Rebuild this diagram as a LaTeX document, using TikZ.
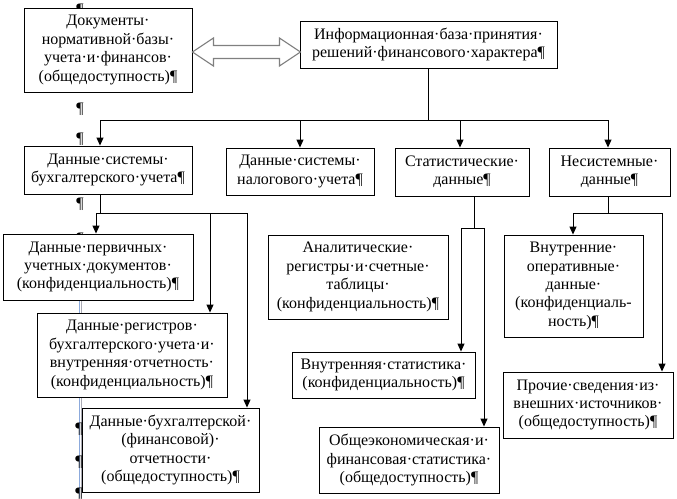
\documentclass[tikz,border=0pt]{standalone}
\usepackage{fontspec}
\setmainfont{Liberation Serif}
\usetikzlibrary{arrows.meta,calc}
\definecolor{markblue}{RGB}{140,170,220}
\definecolor{markgray}{RGB}{170,170,180}
\definecolor{arrgray}{RGB}{128,128,128}
\begin{document}
\begin{tikzpicture}[x=1pt,y=-1pt,
  txt/.style={font=\fontsize{16}{18.4}\selectfont},
  box/.style={txt, draw, fill=white, line width=0.9pt, inner sep=0pt, align=center},
  conn/.style={line width=0.9pt},
  arr/.style={conn, -{Triangle[length=8pt,width=7pt]}},
  stray/.style={txt, inner sep=0pt, anchor=base},
  markline/.style={line width=0.7pt}]
\useasboundingbox (0,0) rectangle (677,498);
\fill[white] (0,0) rectangle (677,498);

% formatting marks behind the boxes
\draw[markline, markblue] (79.2,236) -- (79.2,498);
\draw[markline, markgray] (81,236) -- (81,498);
\node[stray] (p1) at (80,14) {¶};
\node[stray] (p2) at (80,113) {¶};
\node[stray] (p3) at (80,143) {¶};
\node[stray] (p4) at (80,208) {¶};
\node[stray] (p5) at (80,243) {¶};
\node[stray] (p6) at (79,433) {¶};
\node[stray] (p7) at (79,466) {¶};
\node[stray] (p8) at (79,498) {¶};

% boxes
\node[box, minimum width=168pt, minimum height=84pt] (A) at (108,50)
  {Документы·\\нормативной·базы·\\учета·и·финансов·\\(общедоступность)¶};
\node[box, minimum width=257pt, minimum height=47pt] (B) at (428.5,44.5)
  {Информационная·база·принятия·\\решений·финансового·характера¶};
\node[box, minimum width=168pt, minimum height=48pt] (C) at (108,170)
  {Данные·системы·\\бухгалтерского·учета¶};
\node[box, minimum width=148pt, minimum height=47pt] (D) at (300,171.5)
  {Данные·системы·\\налогового·учета¶};
\node[box, minimum width=134pt, minimum height=48pt] (E) at (462,172)
  {Статистические·\\данные¶};
\node[box, minimum width=121pt, minimum height=48pt] (F) at (609.5,172)
  {Несистемные·\\данные¶};
\node[box, minimum width=190pt, minimum height=66pt] (G) at (98,267)
  {Данные·первичных·\\учетных·документов·\\(конфиденциальность)¶};
\node[box, minimum width=190pt, minimum height=84pt] (H) at (132,355)
  {Данные·регистров·\\бухгалтерского·учета·и·\\внутренняя·отчетность·\\(конфиденциальность)¶};
\node[box, minimum width=177pt, minimum height=84pt] (I) at (170.5,450)
  {Данные·бухгалтерской·\\(финансовой)·\\отчетности·\\(общедоступность)¶};
\node[box, minimum width=180pt, minimum height=84pt] (J) at (358,277)
  {Аналитические·\\регистры·и·счетные·\\таблицы·\\(конфиденциальность)¶};
\node[box, minimum width=183pt, minimum height=46pt] (K) at (383.5,375)
  {Внутренняя·статистика·\\(конфиденциальность)¶};
\node[box, minimum width=180pt, minimum height=66pt] (L) at (409,460)
  {Общеэкономическая·и·\\финансовая·статистика·\\(общедоступность)¶};
\node[box, minimum width=139pt, minimum height=102pt] (M) at (573.5,286)
  {Внутренние·\\оперативные·\\данные·\\(конфиденциаль-\\ность)¶};
\node[box, minimum width=170pt, minimum height=66pt] (N) at (588,405)
  {Прочие·сведения·из·\\внешних·источников·\\(общедоступность)¶};

% double arrow between A and B
\draw[line width=1.1pt, arrgray, fill=white, line join=miter]
  ($(A.east)+(0,2)$) -- ++(21,-14) -- ++(0,7.5) -- ++(66,0) -- ++(0,-7.5)
  -- ++(21,14) -- ++(-21,14) -- ++(0,-7.5) -- ++(-66,0) -- ++(0,7.5) -- cycle;

% top level
\coordinate (jB) at (428,120);
\coordinate (h1) at (100,120);
\coordinate (h2) at (300,120);
\coordinate (h3) at (460,120);
\coordinate (h4) at (608,120);
\draw[conn] (B.south -| jB) -- (jB);
\draw[conn] (h1) -- (h4);
\draw[arr] (h1) -- (C.north -| h1);
\draw[arr] (h2) -- (D.north -| h2);
\draw[arr] (h3) -- (E.north -| h3);
\draw[arr] (h4) -- (F.north -| h4);

% under C
\coordinate (c0) at (100,213);
\coordinate (c1) at (96,213);
\coordinate (c2) at (210,213);
\coordinate (c3) at (247,213);
\draw[conn] (C.south -| c0) -- (c0);
\draw[conn] (c1) -- (c3);
\draw[arr] (c1) -- (G.north -| c1);
\draw[arr] (c2) -- (H.north -| c2);
\draw[arr] (c3) -- (I.north -| c3);

% under E
\coordinate (e0) at (474,228);
\coordinate (e1) at (461,228);
\coordinate (e2) at (484,228);
\draw[conn] (E.south -| e0) -- (e0);
\draw[conn] (e1) -- (e2);
\draw[arr] (e1) -- (K.north -| e1);
\draw[arr] (e2) -- (L.north -| e2);

% under F
\coordinate (f0) at (608,213);
\coordinate (f1) at (573,213);
\coordinate (f2) at (662,213);
\draw[conn] (F.south -| f0) -- (f0);
\draw[conn] (f1) -- (f2);
\draw[arr] (f1) -- (M.north -| f1);
\draw[arr] (f2) -- (N.north -| f2);
\end{tikzpicture}
\end{document}
